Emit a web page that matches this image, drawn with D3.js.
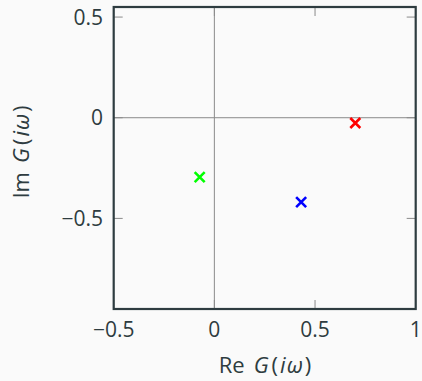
<!DOCTYPE html>
<head>
<meta charset="UTF-8">
<script src="https://d3js.org/d3.v7.min.js"></script>
<style>
  body { margin: 0; background: #fafafa; }
  svg { font-family: "Open Sans", sans-serif; }
  .tick-line { stroke: #8a8a8a; stroke-width: 1; }
</style>
</head>
<body>
<svg id="chart" width="422" height="381"></svg>
<script>
// data
var xTicks = [-0.5, 0, 0.5, 1];
var yTicks = [-0.5, 0, 0.5];
var xDomain = [-0.5, 1];
var yDomain = [-0.95, 0.55];
var poles = [
  {re: 0.70, im: -0.026, color: "#ff0000"},
  {re: 0.431, im: -0.419, color: "#0000ff"},
  {re: -0.073, im: -0.295, color: "#00ff00"}
];

var svg = d3.select("#chart"),
    plotLeft = 113.7, plotTop = 7, size = 302;

var x = d3.scaleLinear().domain(xDomain).range([plotLeft, plotLeft + size]);
var y = d3.scaleLinear().domain(yDomain).range([plotTop + size, plotTop]);
var fmt = function(d) { return d3.format("")(d); };
var ink = "#2e3c40";
var fs = 21;

var g = svg.append("g");

// zero lines
g.append("line").attr("class", "tick-line")
  .attr("x1", x(0)).attr("x2", x(0)).attr("y1", y.range()[0]).attr("y2", y.range()[1]);
g.append("line").attr("class", "tick-line")
  .attr("y1", y(0)).attr("y2", y(0)).attr("x1", x.range()[0]).attr("x2", x.range()[1]);

// inward ticks on all sides
var tl = 9;
g.selectAll(".xt-b").data(xTicks).enter().append("line").attr("class", "tick-line")
  .attr("x1", x).attr("x2", x).attr("y1", y.range()[0]).attr("y2", y.range()[0] - tl);
g.selectAll(".xt-t").data(xTicks).enter().append("line").attr("class", "tick-line")
  .attr("x1", x).attr("x2", x).attr("y1", y.range()[1]).attr("y2", y.range()[1] + tl);
g.selectAll(".yt-l").data(yTicks).enter().append("line").attr("class", "tick-line")
  .attr("y1", y).attr("y2", y).attr("x1", x.range()[0]).attr("x2", x.range()[0] + tl);
g.selectAll(".yt-r").data(yTicks).enter().append("line").attr("class", "tick-line")
  .attr("y1", y).attr("y2", y).attr("x1", x.range()[1]).attr("x2", x.range()[1] - tl);

// frame
g.append("rect")
  .attr("x", plotLeft).attr("y", plotTop).attr("width", size).attr("height", size)
  .attr("fill", "none").attr("stroke", ink).attr("stroke-width", 2.2);

// tick labels
g.selectAll(".xl").data(xTicks).enter().append("text")
  .attr("x", x).attr("y", 337).attr("text-anchor", "middle")
  .attr("font-size", fs).attr("fill", ink).text(fmt);
g.selectAll(".yl").data(yTicks).enter().append("text")
  .attr("x", 103).attr("y", function(d) { return y(d) + 7.5; }).attr("text-anchor", "end")
  .attr("font-size", fs).attr("fill", ink).text(fmt);

// axis labels, G(iω) set like math
function mathLabel(sel, pre) {
  sel.append("tspan").text(pre);
  sel.append("tspan").attr("dx", 9).attr("font-style", "italic").text("G");
  sel.append("tspan").attr("dx", 3).text("(");
  sel.append("tspan").attr("dx", 2).attr("font-style", "italic").text("i");
  sel.append("tspan").attr("dx", 1).attr("font-style", "italic").text("ω");
  sel.append("tspan").attr("dx", 2).text(")");
}
var xl = svg.append("text").attr("x", 265).attr("y", 373)
  .attr("text-anchor", "middle").attr("font-size", 22).attr("fill", ink);
mathLabel(xl, "Re");

var yl = svg.append("text")
  .attr("transform", "translate(29,152) rotate(-90)")
  .attr("text-anchor", "middle").attr("font-size", 22).attr("fill", ink);
mathLabel(yl, "Im");

// pole markers
var r = 5;
var m = g.selectAll(".pole").data(poles).enter().append("g")
  .attr("transform", function(d) { return "translate(" + x(d.re) + "," + y(d.im) + ")"; });
m.append("path")
  .attr("d", "M" + (-r) + "," + (-r) + "L" + r + "," + r + "M" + (-r) + "," + r + "L" + r + "," + (-r))
  .attr("stroke", function(d) { return d.color; })
  .attr("stroke-width", 2.6).attr("fill", "none");
</script>
</body>
</html>
